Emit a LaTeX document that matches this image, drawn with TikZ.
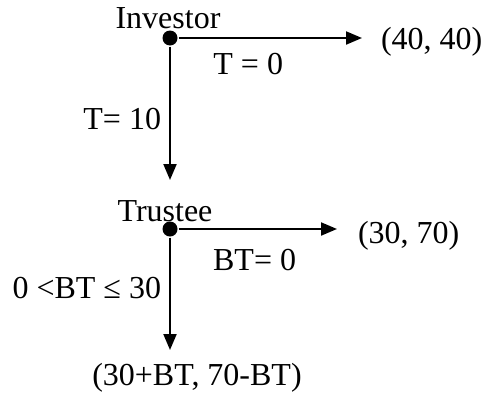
\documentclass[tikz,border=0pt]{standalone}
\usepackage{fontspec}
\setmainfont{Liberation Serif}
\usetikzlibrary{arrows.meta}

\begin{document}
\begin{tikzpicture}[x=0.5pt, y=-0.5pt, line width=1pt,
        every node/.style={font=\fontsize{16}{19}\selectfont, inner sep=0pt},
        player/.style={circle, fill, minimum size=7.5pt},
        move/.style={-{Triangle[length=8pt, width=6.5pt]}}]
        \useasboundingbox (0,0) rectangle (486,402);

        % Investor
        \node[player] (inv) at (170,38) {};
        \node (invname) at (168,18) {Investor};
        \coordinate (keepend) at (362,38);
        \coordinate (sendend) at (170,180);
        \node[anchor=west] (keep) at (380,42) {(40, 40)};
        \draw[move] (inv) -- (keepend) node[pos=0.38, below=7pt] (keeplab) {T = 0};
        \draw[move] (inv) -- (sendend) node[pos=0.54, left=4pt] (sendlab) {T= 10};

        % Trustee
        \node[player] (tru) at (170,229) {};
        \node (truname) at (165,211) {Trustee};
        \coordinate (noneend) at (337,229);
        \coordinate (backend) at (170,350);
        \node[anchor=west] (none) at (357,236) {(30, 70)};
        \node (back) at (197,378) {(30+BT, 70-BT)};
        \draw[move] (tru) -- (noneend) node[pos=0.48, below=9.5pt] (nonelab) {BT= 0};
        \draw[move] (tru) -- (backend) node[pos=0.45, left=4pt] (backlab) {0 <BT ≤ 30};
\end{tikzpicture}
\end{document}
